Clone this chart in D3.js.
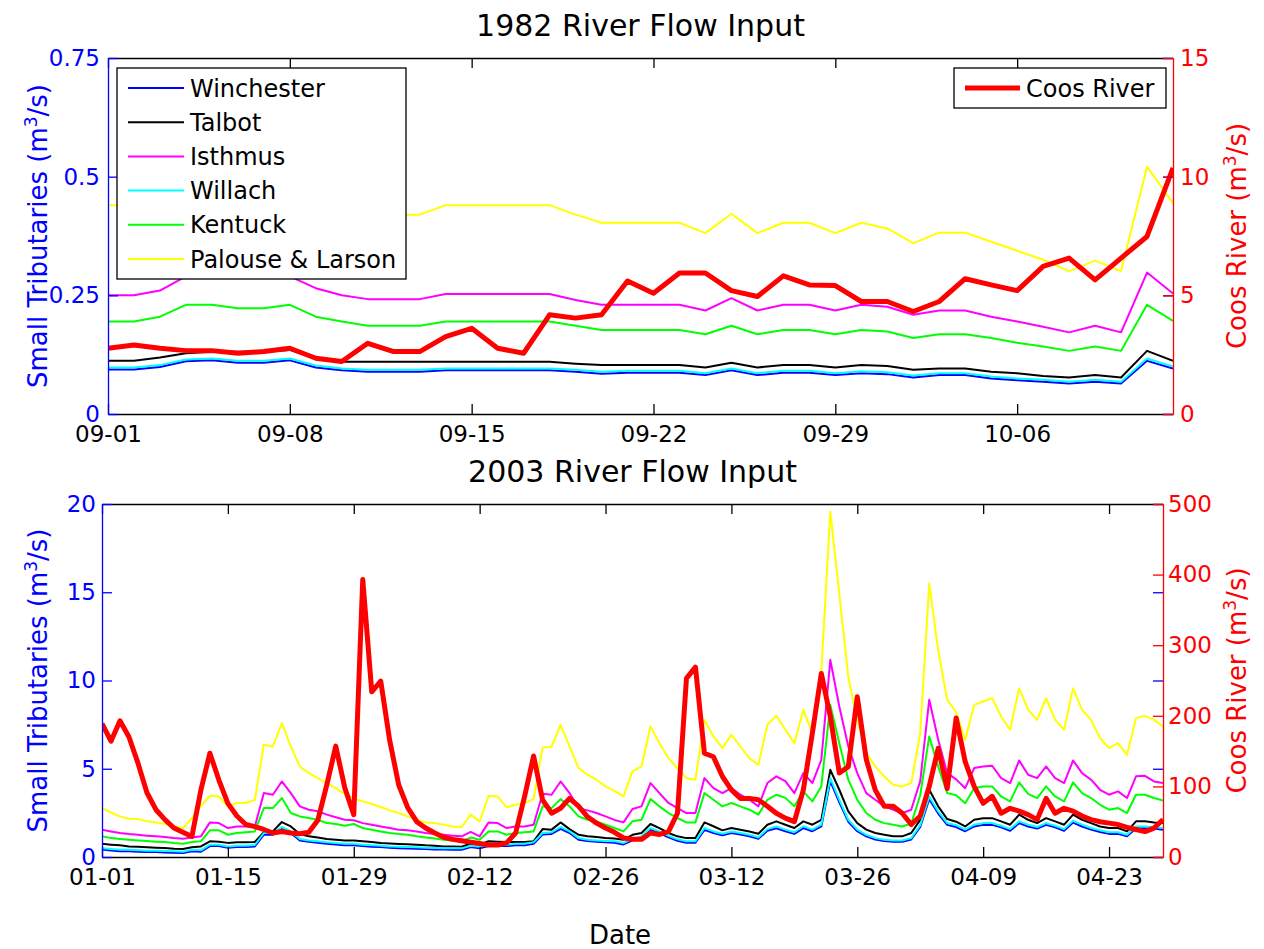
<!DOCTYPE html>
<html><head><meta charset="utf-8">
<script src="https://cdn.jsdelivr.net/npm/d3@7"></script>
<style>
body{margin:0;background:#fff;}
svg{display:block;}
text{font-family:"DejaVu Sans","Liberation Sans",Arial,sans-serif;}
</style>
</head><body>
<svg id="chart" width="1264" height="949"></svg>
<script>
// ---------------- DATA ----------------
const seriesNames = ["Winchester","Talbot","Isthmus","Willach","Kentuck","Palouse & Larson"];
const seriesColors = ["#0000ff","#000000","#ff00ff","#00ffff","#00ff00","#ffff00"];
const coosName = "Coos River";

// 1982: daily, 09-01 .. 10-12
const topStart = "1982-09-01";
const topTickLabels = ["09-01","09-08","09-15","09-22","09-29","10-06"];
const top1982Winchester = [.094,.094,.099,.111,.113,.108,.108,.113,.098,.092,.089,.089,.089,.092,.092,.092,.092,.092,.089,.085,.087,.087,.087,.082,.092,.082,.087,.087,.082,.086,.084,.077,.082,.082,.075,.071,.068,.064,.068,.064,.112,.096];
const top1982Talbot = [.112,.112,.119,.128,.131,.131,.131,.135,.117,.11,.11,.11,.11,.11,.11,.11,.11,.11,.106,.103,.103,.103,.103,.098,.108,.098,.103,.103,.098,.103,.101,.093,.096,.096,.089,.086,.08,.077,.082,.077,.133,.112];
const top1982Isthmus = [.25,.25,.26,.29,.30,.30,.30,.29,.265,.25,.242,.242,.242,.253,.253,.253,.253,.253,.24,.23,.23,.23,.23,.218,.244,.218,.23,.23,.218,.23,.226,.209,.218,.218,.205,.195,.184,.172,.186,.172,.298,.254];
const top1982Willach = [.098,.098,.103,.115,.117,.112,.112,.117,.102,.096,.093,.093,.093,.096,.096,.096,.096,.096,.093,.089,.091,.091,.091,.086,.096,.086,.091,.091,.086,.09,.088,.081,.086,.086,.079,.075,.072,.068,.072,.068,.117,.1];
const top1982Kentuck = [.195,.195,.205,.23,.23,.223,.223,.23,.205,.195,.186,.186,.186,.195,.195,.195,.195,.195,.186,.177,.177,.177,.177,.168,.186,.168,.177,.177,.168,.177,.174,.16,.168,.168,.16,.15,.142,.133,.142,.133,.23,.196];
const top1982Palouse = [.44,.44,.45,.46,.47,.46,.45,.45,.44,.43,.42,.42,.42,.44,.44,.44,.44,.44,.42,.403,.403,.403,.403,.381,.422,.381,.403,.403,.381,.403,.391,.36,.382,.382,.363,.344,.325,.301,.323,.301,.521,.444];
const top1982Coos = [2.77,2.91,2.77,2.67,2.67,2.56,2.63,2.77,2.35,2.21,2.98,2.63,2.63,3.26,3.61,2.77,2.56,4.18,4.04,4.18,5.6,5.09,5.94,5.94,5.2,4.95,5.82,5.44,5.41,4.74,4.74,4.32,4.74,5.7,5.44,5.2,6.22,6.57,5.65,6.57,7.48,10.37];

// 2003: daily, 01-01 .. 04-29
const botStart = "2003-01-01";
const botTickLabels = ["01-01","01-15","01-29","02-12","02-26","03-12","03-26","04-09","04-23"];
const bot2003Winchester = [0.42,0.37,0.33,0.33,0.3,0.28,0.28,0.26,0.24,0.22,
 0.33,0.3,0.62,0.62,0.52,0.56,0.56,0.6,1.26,1.26,
 1.6,1.36,0.93,0.86,0.81,0.75,0.71,0.67,0.67,0.62,
 0.58,0.56,0.52,0.5,0.48,0.47,0.45,0.43,0.42,0.41,
 0.41,0.56,0.5,0.62,0.62,0.62,0.67,0.67,0.75,1.27,
 1.31,1.6,1.36,0.98,0.9,0.86,0.83,0.81,0.71,0.95,
 1.08,1.54,1.36,1.11,0.92,0.81,0.81,1.54,1.36,1.23,
 1.36,1.27,1.17,1.03,1.49,1.63,1.46,1.31,1.64,1.46,
 1.73,4.3,3.1,2.0,1.46,1.17,0.99,0.9,0.86,0.86,
 0.99,1.7,3.28,2.46,1.82,1.7,1.46,1.73,1.82,1.82,
 1.68,1.49,1.92,1.73,1.61,1.82,1.68,1.49,1.95,1.73,
 1.55,1.42,1.31,1.31,1.17,1.63,1.63,1.61,1.55];
const bot2003Talbot = [0.75,0.7,0.66,0.6,0.58,0.55,0.53,0.51,0.47,0.45,
 0.55,0.6,0.89,0.87,0.8,0.83,0.83,0.85,1.4,1.45,
 1.98,1.73,1.3,1.17,1.1,1.02,0.98,0.94,0.94,0.89,
 0.85,0.79,0.76,0.74,0.72,0.7,0.66,0.64,0.6,0.6,
 0.58,0.75,0.7,0.89,0.87,0.85,0.85,0.85,0.89,1.58,
 1.55,1.96,1.58,1.26,1.17,1.13,1.07,1.05,0.98,1.26,
 1.36,1.87,1.64,1.36,1.17,1.07,1.07,1.96,1.74,1.51,
 1.64,1.55,1.45,1.32,1.83,2.02,1.83,1.64,2.02,1.83,
 2.1,4.94,3.81,2.58,1.92,1.55,1.36,1.26,1.17,1.17,
 1.36,2.1,3.81,2.87,2.15,2.0,1.73,2.11,2.2,2.2,
 2.02,1.83,2.4,2.11,1.92,2.2,2.02,1.83,2.4,2.11,
 1.92,1.73,1.64,1.64,1.45,2.02,2.02,1.96,1.92];
const bot2003Isthmus = [1.54,1.45,1.36,1.3,1.26,1.21,1.17,1.13,1.07,1.04,
 1.1,1.17,1.96,1.92,1.64,1.73,1.73,1.73,3.62,3.53,
 4.28,3.62,2.87,2.68,2.59,2.4,2.25,2.11,2.08,1.92,
 1.83,1.73,1.64,1.55,1.51,1.45,1.36,1.3,1.26,1.21,
 1.17,1.42,1.17,1.96,1.92,1.64,1.73,1.73,1.83,3.58,
 3.53,4.28,3.62,2.77,2.64,2.49,2.3,2.1,1.96,2.72,
 2.87,4.19,3.62,3.06,2.77,2.49,2.49,4.47,3.9,3.62,
 3.9,3.53,3.24,2.87,4.19,4.57,4.3,3.62,4.75,4.19,
 5.5,11.17,8.53,6.26,4.75,3.62,3.24,2.87,2.68,2.49,
 2.68,4.3,8.91,6.64,4.75,4.4,3.9,5.04,5.13,5.17,
 4.47,4.19,5.47,4.66,4.47,5.13,4.47,4.19,5.47,4.75,
 4.38,3.81,3.53,3.72,3.34,4.57,4.6,4.28,4.19];
const bot2003Willach = [0.5,0.45,0.41,0.41,0.38,0.36,0.36,0.34,0.32,0.3,
 0.41,0.38,0.7,0.7,0.6,0.64,0.64,0.68,1.36,1.36,
 1.7,1.45,1.02,0.94,0.89,0.83,0.79,0.75,0.75,0.7,
 0.66,0.64,0.6,0.58,0.56,0.55,0.53,0.51,0.5,0.49,
 0.49,0.64,0.58,0.7,0.7,0.7,0.75,0.75,0.83,1.36,
 1.4,1.7,1.45,1.07,0.98,0.94,0.91,0.89,0.79,1.04,
 1.17,1.64,1.45,1.2,1.0,0.89,0.89,1.64,1.45,1.32,
 1.45,1.36,1.26,1.11,1.58,1.73,1.55,1.4,1.74,1.55,
 1.83,4.47,3.24,2.11,1.55,1.26,1.07,0.98,0.94,0.94,
 1.07,1.8,3.43,2.58,1.92,1.8,1.55,1.83,1.92,1.92,
 1.77,1.58,2.02,1.83,1.7,1.92,1.77,1.58,2.05,1.83,
 1.64,1.51,1.4,1.4,1.26,1.73,1.73,1.7,1.64];
const bot2003Kentuck = [1.17,1.07,1.02,0.98,0.94,0.9,0.87,0.85,0.79,0.75,
 0.85,0.89,1.51,1.51,1.26,1.36,1.4,1.45,2.77,2.77,
 3.34,2.49,2.3,2.21,2.11,1.92,1.87,1.77,1.87,1.64,
 1.55,1.45,1.36,1.3,1.26,1.17,1.11,1.05,0.98,0.94,
 0.89,1.1,0.98,1.45,1.45,1.26,1.36,1.4,1.45,2.87,
 2.77,3.28,2.87,2.3,2.11,2.02,1.83,1.64,1.45,2.02,
 2.11,3.28,2.87,2.49,2.21,1.96,1.96,3.62,3.24,2.87,
 3.06,2.87,2.68,2.4,3.24,3.53,3.35,2.87,3.72,3.15,
 4.0,8.62,6.45,4.38,3.24,2.49,2.11,1.92,1.83,1.73,
 1.9,3.5,6.83,5.13,3.62,3.5,3.05,3.9,4.0,4.0,
 3.43,3.15,4.23,3.58,3.34,4.0,3.43,3.15,4.23,3.62,
 3.34,2.96,2.68,2.77,2.49,3.53,3.53,3.34,3.2];
const bot2003Palouse = [2.77,2.52,2.3,2.17,2.15,2.02,1.96,1.89,1.73,1.64,
 2.2,2.9,3.47,3.43,2.87,3.06,3.06,3.24,6.36,6.26,
 7.59,6.26,5.13,4.75,4.47,4.19,3.9,3.58,3.33,3.15,
 3.0,2.83,2.64,2.49,2.3,2.11,1.96,1.92,1.83,1.73,
 1.7,2.4,2.02,3.47,3.43,2.81,2.96,3.06,3.28,6.2,
 6.26,7.49,6.26,5.04,4.66,4.38,4.0,3.75,3.43,4.85,
 5.13,7.4,6.45,5.6,5.04,4.47,4.38,7.77,6.83,6.17,
 6.92,6.26,5.6,5.23,7.49,8.0,7.21,6.45,8.34,7.02,
 10.5,19.57,14.9,10.2,7.77,5.89,5.13,4.56,4.09,4.0,
 4.19,7.0,15.5,11.7,8.9,8.2,6.64,8.62,8.81,9.0,
 7.96,7.21,9.56,8.34,7.77,9.0,7.77,7.21,9.56,8.34,
 7.77,6.74,6.17,6.45,5.79,7.87,8.0,7.77,7.4];
const bot2003Coos = [189,164,193,170,133,91,67,53,41,35,
 29,95,147,109,76,58,46,43,39,34,
 36,34,33,35,52,102,157,98,60,393,
 234,249,165,102,70,50,41,34,28,25,
 23,21,19,17,17,20,34,86,143,81,
 62,69,83,72,57,48,41,35,27,25,
 25,34,32,36,62,253,269,147,142,114,
 95,83,83,81,72,62,55,50,95,175,
 260,199,119,128,227,138,95,72,72,62,
 46,58,100,154,97,197,135,100,76,86,
 62,69,65,60,53,83,62,69,65,58,
 53,50,48,46,42,39,36,41,53];

const topLeftTicks = [0,0.25,0.5,0.75];
const topLeftTickLabels = ["0","0.25","0.5","0.75"];
const topRightTicks = [0,5,10,15];
const botLeftTicks = [0,5,10,15,20];
const botRightTicks = [0,100,200,300,400,500];

// ---------------- DRAW ----------------
const svg = d3.select("#chart");
const BLUE="#0000ff", RED="#ff0000";
const TICKFONT = 23, LABELFONT = 26, SUPFONT = 17;

function dayDates(start, n){
  const s = new Date(start+"T00:00:00Z");
  return d3.utcDays(s, d3.utcDay.offset(s, n));
}

function axisLabel(parent, xp, yp, txt, color){
  const t = parent.append("text").attr("transform",`translate(${xp},${yp}) rotate(-90)`)
    .attr("text-anchor","middle").attr("font-size",LABELFONT).attr("fill",color);
  t.append("tspan").text(txt+" (m");
  t.append("tspan").attr("font-size",SUPFONT).attr("dy",-10).text("3");
  t.append("tspan").attr("dy",10).text("/s)");
}

function panel(cfg){
  const {L,R,T,B} = cfg;
  const dates = dayDates(cfg.start, cfg.small[0].length);
  const x = d3.scaleUtc().domain([dates[0], dates[dates.length-1]]).range([L,R]);
  const yL = d3.scaleLinear().domain(cfg.yLdom).range([B,T]);
  const yR = d3.scaleLinear().domain(cfg.yRdom).range([B,T]);
  const g = svg.append("g");

  const cid = "clip"+cfg.id;
  svg.append("clipPath").attr("id",cid).append("rect")
     .attr("x",L).attr("y",T-3).attr("width",R-L).attr("height",B-T+6);
  const lines = g.append("g").attr("clip-path",`url(#${cid})`);
  cfg.small.forEach((arr,i)=>{
    const line = d3.line().x((d,j)=>x(dates[j])).y(d=>yL(d));
    lines.append("path").datum(arr).attr("d",line)
      .attr("fill","none").attr("stroke",seriesColors[i]).attr("stroke-width",2)
      .attr("stroke-linejoin","round");
  });
  const rline = d3.line().x((d,j)=>x(dates[j])).y(d=>yR(d));
  lines.append("path").datum(cfg.coos).attr("d",rline)
    .attr("fill","none").attr("stroke",RED).attr("stroke-width",5)
    .attr("stroke-linejoin","round");

  const tickDates = cfg.tickLabels.map((s,i)=>dates[i*cfg.tickStep]);
  const fmtX = (d)=>cfg.tickLabels[tickDates.findIndex(t=>+t===+d)];
  const xb = g.append("g").attr("transform",`translate(0,${B})`)
    .call(d3.axisBottom(x).tickValues(tickDates).tickFormat(fmtX).tickSize(-10).tickSizeOuter(0).tickPadding(cfg.xPad));
  xb.attr("color","#000");
  xb.selectAll("text").attr("font-size",TICKFONT).attr("fill","#000").attr("font-family",null);
  g.append("g").attr("transform",`translate(0,${T})`)
    .call(d3.axisTop(x).tickValues(tickDates).tickFormat("").tickSize(-10).tickSizeOuter(0))
    .attr("color","#000");
  const al = g.append("g").attr("transform",`translate(${L},0)`)
    .call(d3.axisLeft(yL).tickValues(cfg.yLticks).tickFormat((d,i)=>cfg.yLlabels[i]).tickSize(-10).tickSizeOuter(0).tickPadding(cfg.yLpad));
  al.attr("color",BLUE);
  al.selectAll("text").attr("font-size",TICKFONT).attr("fill",BLUE).attr("font-family",null);
  g.append("g").attr("transform",`translate(${R},0)`)
    .call(d3.axisRight(yL).tickValues(cfg.yLticks).tickFormat("").tickSize(-10).tickSizeOuter(0))
    .attr("color",BLUE).select(".domain").remove();
  const ar = g.append("g").attr("transform",`translate(${R},0)`)
    .call(d3.axisRight(yR).tickValues(cfg.yRticks).tickSize(-10).tickSizeOuter(0).tickPadding(cfg.yRpad));
  ar.attr("color",RED);
  ar.selectAll("text").attr("font-size",TICKFONT).attr("fill",RED).attr("font-family",null);
  g.selectAll(".domain").attr("stroke-width",1.3);
  g.selectAll(".tick line").attr("stroke-width",1.3);

  svg.append("text").attr("x",(L+R)/2).attr("y",cfg.titleY).attr("text-anchor","middle")
    .attr("font-size",cfg.titleSize).attr("fill","#000").text(cfg.title);

  axisLabel(svg, cfg.yLabX, (T+B)/2, "Small Tributaries", BLUE);
  axisLabel(svg, cfg.yRabX, (T+B)/2, "Coos River", RED);
  return {x,yL,yR,g};
}

panel({id:1, L:108,R:1173,T:58,B:414, start:topStart,
  small:[top1982Winchester,top1982Talbot,top1982Isthmus,top1982Willach,top1982Kentuck,top1982Palouse],
  coos:top1982Coos, tickLabels:topTickLabels, tickStep:7, xPad:12,
  yLdom:[0,0.75], yRdom:[0,15], yLticks:topLeftTicks, yLlabels:topLeftTickLabels, yRticks:topRightTicks,
  yLpad:8, yRpad:7, title:"1982 River Flow Input", titleY:36, titleSize:30, yLabX:47, yRabX:1246});

panel({id:2, L:102,R:1163,T:504,B:857, start:botStart,
  small:[bot2003Winchester,bot2003Talbot,bot2003Isthmus,bot2003Willach,bot2003Kentuck,bot2003Palouse],
  coos:bot2003Coos, tickLabels:botTickLabels, tickStep:14, xPad:12,
  yLdom:[0,20], yRdom:[0,500], yLticks:botLeftTicks, yLlabels:botLeftTicks.map(String), yRticks:botRightTicks,
  yLpad:6, yRpad:5, title:"2003 River Flow Input", titleY:482, titleSize:30, yLabX:47, yRabX:1246});

svg.append("text").attr("x",620).attr("y",944).attr("text-anchor","middle")
  .attr("font-size",LABELFONT).attr("fill","#000").text("Date");

// legends
const lg = svg.append("g");
lg.append("rect").attr("x",117).attr("y",68).attr("width",289).attr("height",211)
  .attr("fill","#fff").attr("stroke","#000").attr("stroke-width",1.3);
seriesNames.forEach((n,i)=>{
  const yy = 88 + i*34.2;
  lg.append("line").attr("x1",128).attr("x2",184).attr("y1",yy).attr("y2",yy)
    .attr("stroke",seriesColors[i]).attr("stroke-width",2);
  lg.append("text").attr("x",190).attr("y",yy).attr("dy","0.36em").attr("font-size",24).text(n);
});
const lg2 = svg.append("g");
lg2.append("rect").attr("x",954).attr("y",68).attr("width",212).attr("height",40)
  .attr("fill","#fff").attr("stroke","#000").attr("stroke-width",1.3);
lg2.append("line").attr("x1",965).attr("x2",1020).attr("y1",88).attr("y2",88)
  .attr("stroke",RED).attr("stroke-width",5);
lg2.append("text").attr("x",1026).attr("y",88).attr("dy","0.36em").attr("font-size",24).text(coosName);
</script>
</body></html>
